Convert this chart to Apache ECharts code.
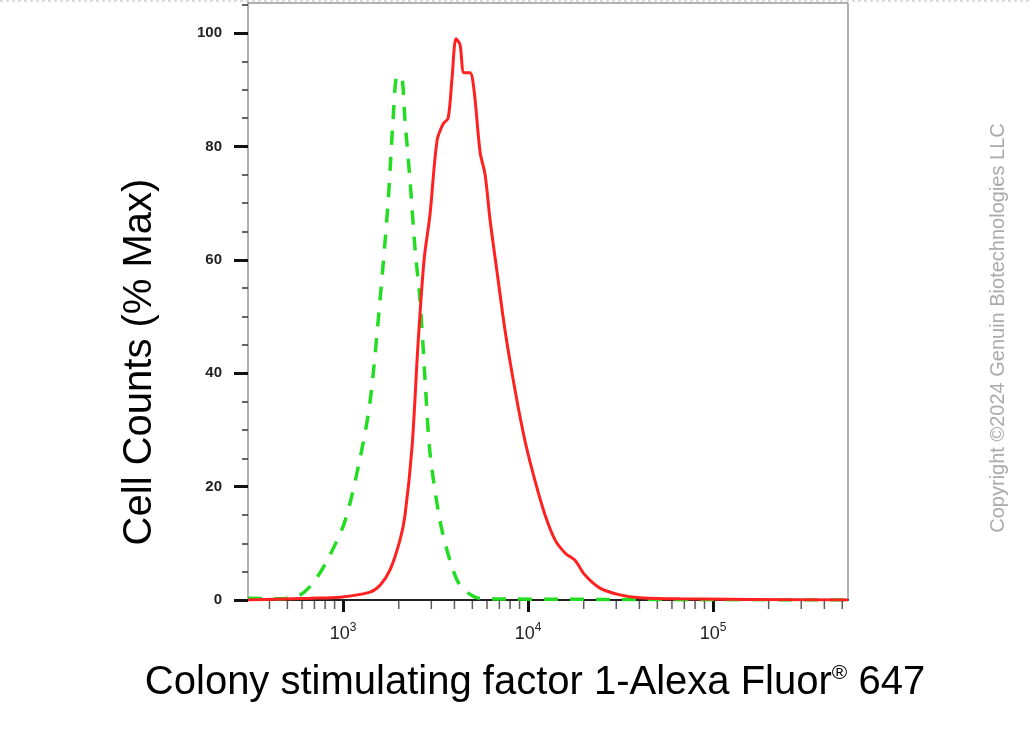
<!DOCTYPE html>
<html><head><meta charset="utf-8">
<script src="https://cdn.jsdelivr.net/npm/echarts@6/dist/echarts.min.js"></script>
<style>html,body{margin:0;background:#fff}#c{width:1030px;height:730px}</style>
</head><body><div id="c"></div>
<script>
// x values are log10(fluorescence intensity)
const redLogX = [2.486, 2.822, 2.984, 3.146, 3.2, 3.254, 3.308, 3.335, 3.373, 3.405, 3.438, 3.47, 3.508, 3.541, 3.568, 3.589, 3.611, 3.632, 3.654, 3.686, 3.708, 3.741, 3.768, 3.795, 3.832, 3.876, 3.93, 3.984, 4.038, 4.092, 4.146, 4.2, 4.254, 4.308, 4.389, 4.497, 4.605, 4.822, 5.73];
const redY    = [0, 0.3, 0.5, 1.4, 2.6, 5.3, 10.6, 15, 27, 45, 60, 68, 81, 84, 85, 92, 99, 98, 93, 93, 90, 79, 75, 67, 58, 47.5, 37, 28, 21, 15, 10.6, 8.3, 7, 4.4, 2.1, 0.9, 0.4, 0.2, 0];
const greenLogX = [2.486, 2.659, 2.768, 2.849, 2.93, 3.011, 3.092, 3.146, 3.2, 3.243, 3.27, 3.292, 3.314, 3.335, 3.362, 3.389, 3.416, 3.443, 3.47, 3.524, 3.578, 3.632, 3.714, 3.795, 5.73];
const greenY    = [0.3, 0.2, 0.9, 3.5, 8, 14, 25, 35, 53, 70, 84.5, 92.4, 92.4, 84.5, 74, 62, 53, 39, 26, 14, 7, 2.6, 0.5, 0.2, 0];
const xDecades = [3, 4, 5];
const xMinorTicks = [400, 500, 600, 700, 800, 900, 2000, 3000, 4000, 5000, 6000, 7000, 8000, 9000,
  20000, 30000, 40000, 50000, 60000, 70000, 80000, 90000, 200000, 300000, 400000, 500000];
const yTicks = [0, 20, 40, 60, 80, 100];

const chart = echarts.init(document.getElementById('c'));
const pair = (xs, ys) => xs.map((x, i) => [x, ys[i]]);
chart.setOption({
  animation: false,
  grid: { left: 248, right: 182, top: 2, bottom: 130 },
  xAxis: {
    type: 'value', min: 2.486, max: 5.73,
    axisLine: { lineStyle: { color: '#222', width: 2 } },
    splitLine: { show: false },
    axisTick: { customValues: xDecades, length: 12, lineStyle: { color: '#111', width: 3 } },
    axisLabel: {
      customValues: xDecades, margin: 22, color: '#222',
      formatter: v => '{b|10}{s|' + v + '}',
      rich: { b: { fontSize: 18, fontFamily: 'Liberation Sans' }, s: { fontSize: 12, verticalAlign: 'top', padding: [0, 0, 12, 0], fontFamily: 'Liberation Sans' } }
    }
  },
  yAxis: {
    type: 'value', min: 0, max: 105.5, interval: 20,
    axisLine: { show: true, lineStyle: { color: '#999', width: 1.5 } },
    splitLine: { show: false },
    axisTick: { customValues: yTicks, length: 14, lineStyle: { color: '#111', width: 3 } },
    minorTick: { show: true, splitNumber: 4, length: 6, lineStyle: { color: '#333', width: 1.5 } },
    axisLabel: { customValues: yTicks, margin: 26, color: '#222', fontSize: 15, fontWeight: 'bold', fontFamily: 'Liberation Sans' }
  },
  graphic: [
    { type: 'line', shape: { x1: 0, y1: 1, x2: 1030, y2: 1 }, style: { stroke: '#bbb', lineDash: [3, 3] } },
    { type: 'line', shape: { x1: 248, y1: 3, x2: 848, y2: 3 }, style: { stroke: '#999', lineWidth: 1.5 } },
    { type: 'line', shape: { x1: 848, y1: 3, x2: 848, y2: 600 }, style: { stroke: '#999', lineWidth: 1.5 } },
    { type: 'text', x: 140, y: 362, rotation: Math.PI / 2,
      style: { text: 'Cell Counts (% Max)', font: '40px "Liberation Sans"', fill: '#000', align: 'center', verticalAlign: 'middle' } },
    { type: 'text', x: 535, y: 683,
      style: { text: '{a|Colony stimulating factor 1-Alexa Fluor}{r|®}{a| 647}', align: 'center', verticalAlign: 'middle',
        rich: { a: { font: '40px "Liberation Sans"', fill: '#000' }, r: { font: '21px "Liberation Sans"', fill: '#000', verticalAlign: 'top', padding: [0, 0, 18, 0] } } } },
    { type: 'text', x: 998, y: 328, rotation: Math.PI / 2,
      style: { text: 'Copyright ©2024 Genuin Biotechnologies LLC', font: '20px "Liberation Sans"', fill: '#aaa', align: 'center', verticalAlign: 'middle' } }
  ],
  series: [
    { type: 'line', data: pair(greenLogX, greenY), smooth: 0.3, symbol: 'none',
      lineStyle: { color: '#22dd22', width: 3.5, type: [14, 12] } },
    { type: 'line', data: pair(redLogX, redY), smooth: 0.3, symbol: 'none',
      lineStyle: { color: '#ff2020', width: 3 } },
    { type: 'scatter', data: xMinorTicks.map(v => [Math.log10(v), 0]), symbol: 'rect',
      symbolSize: [1.5, 8], symbolOffset: [0, 5], itemStyle: { color: '#333' }, silent: true, z: 5 }
  ]
});
</script>
</body></html>
